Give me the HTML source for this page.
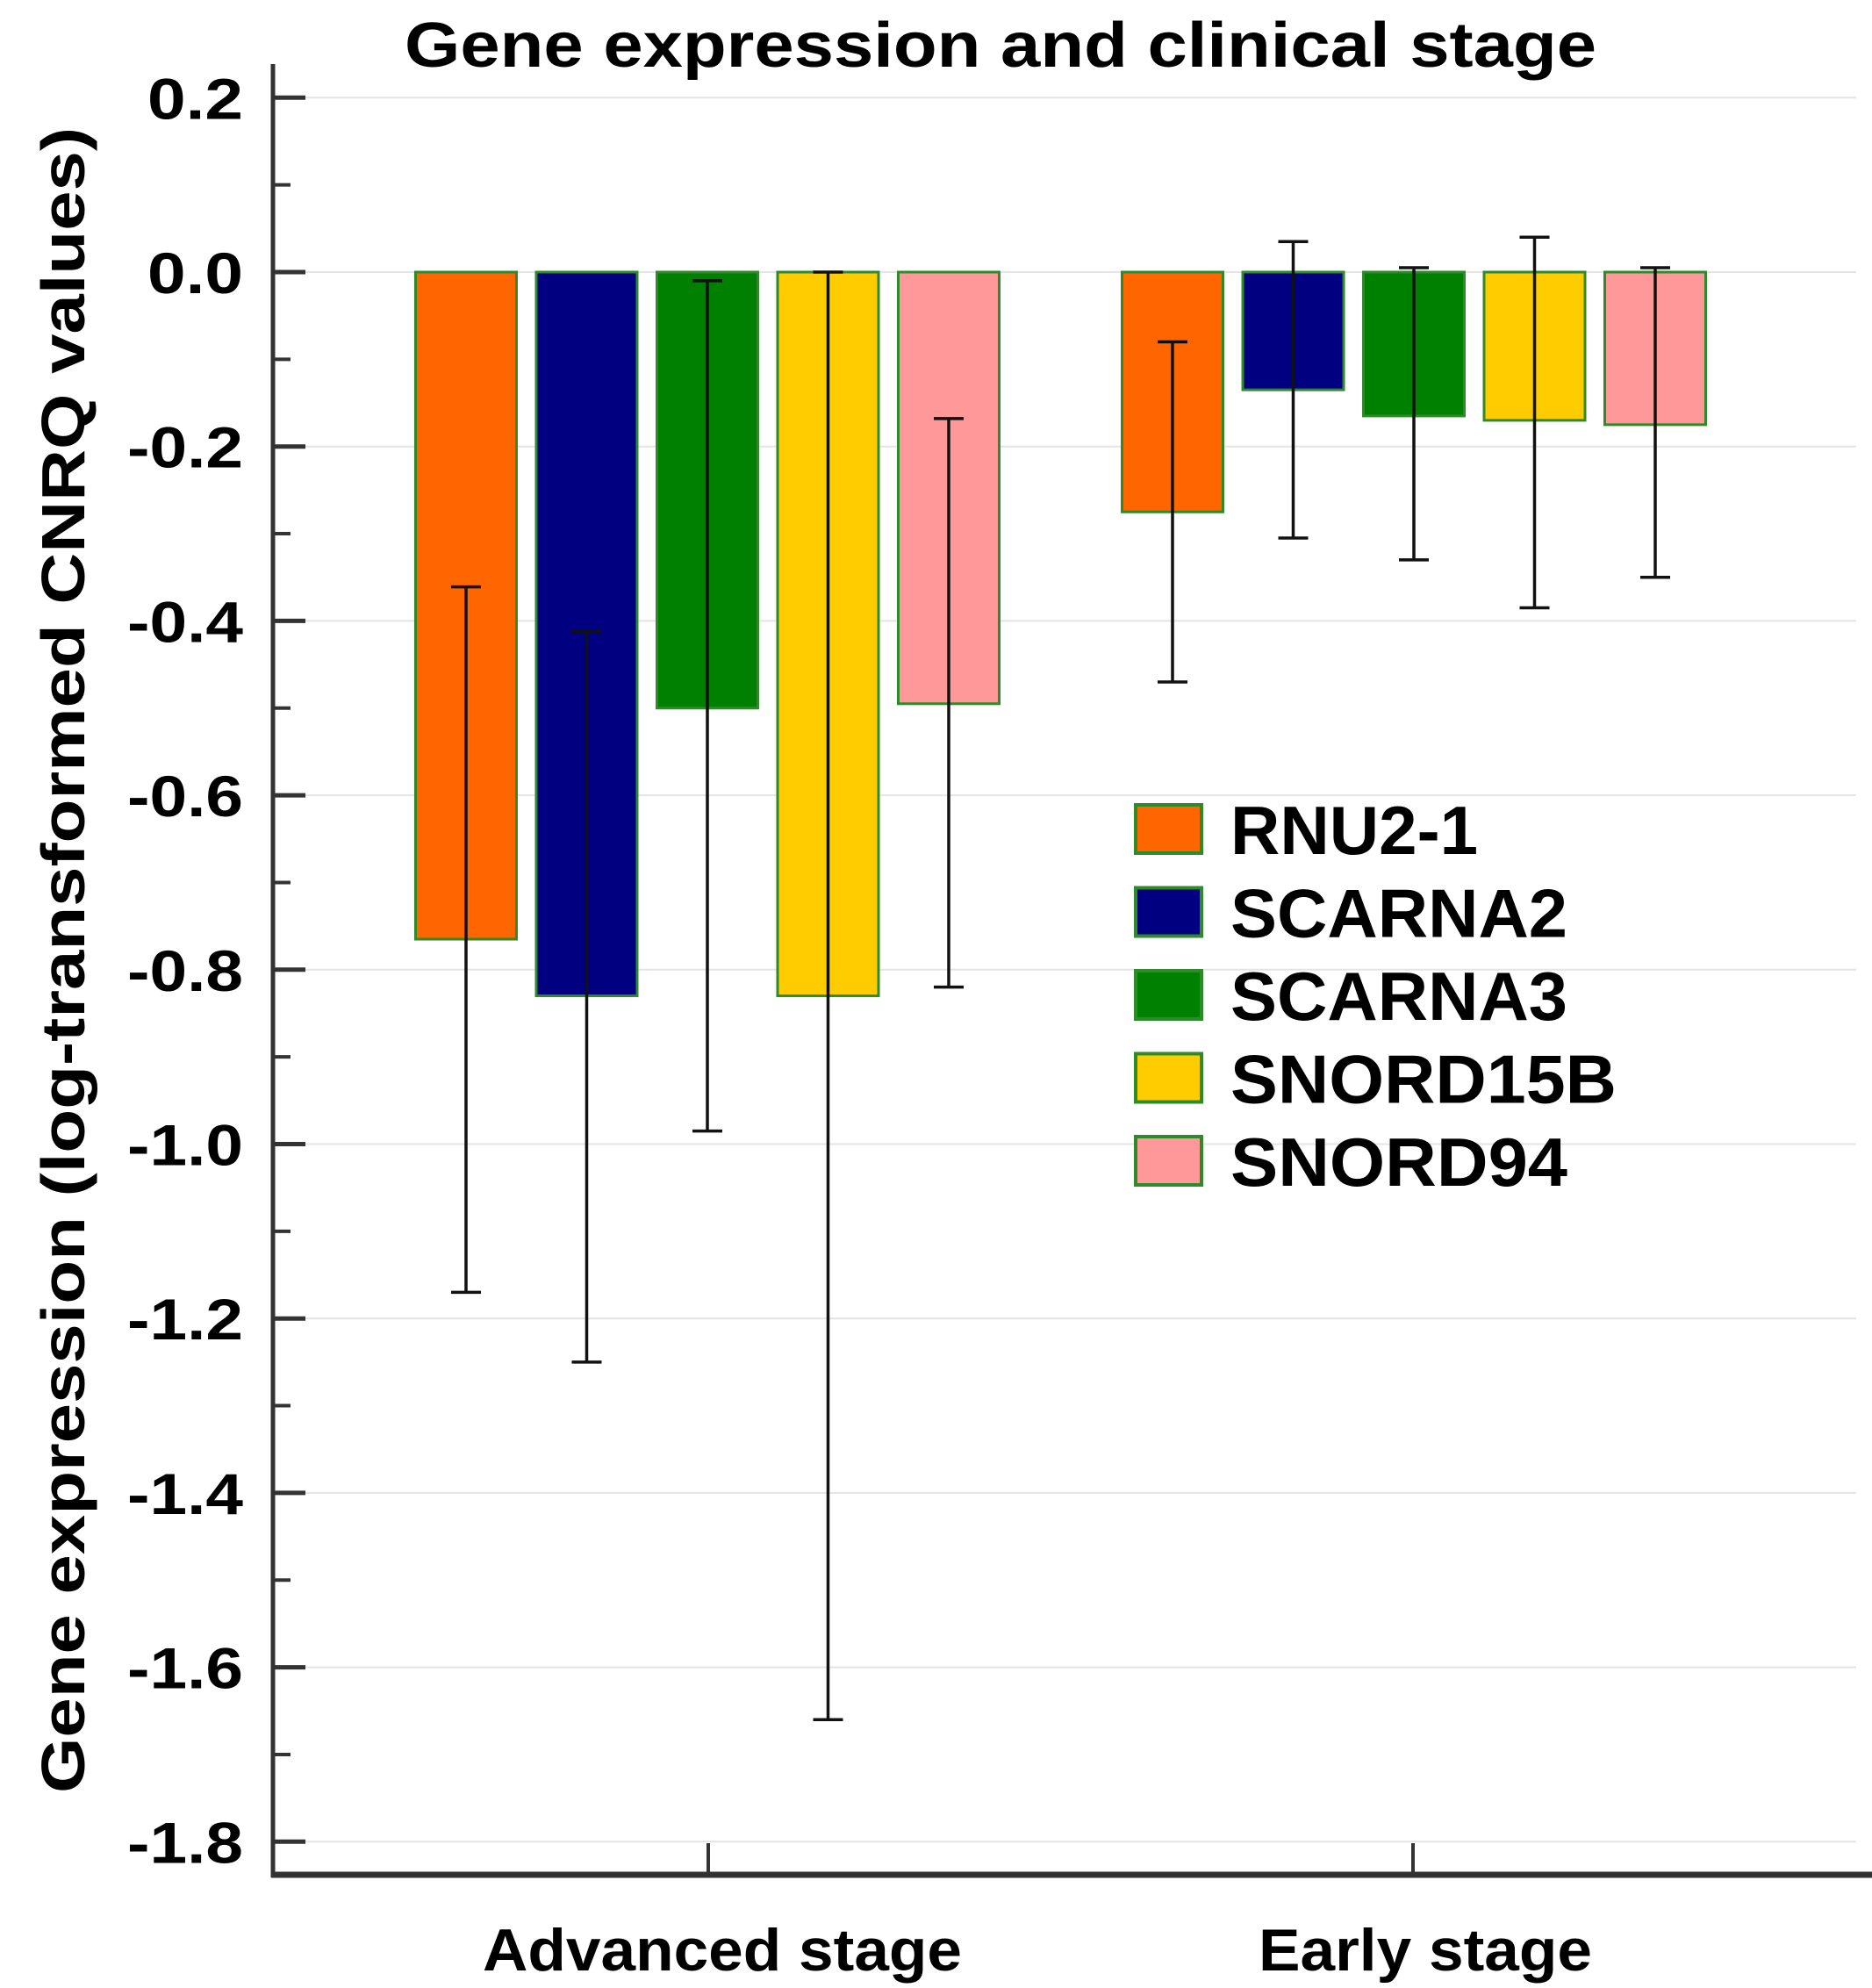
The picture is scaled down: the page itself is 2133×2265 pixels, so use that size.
<!DOCTYPE html>
<html><head><meta charset="utf-8"><style>
body{margin:0;background:#fff;}
svg{display:block;font-family:"Liberation Sans",Arial,sans-serif;}
</style></head><body>
<svg id="chart" width="2133" height="2265" viewBox="0 0 2133 2265" xmlns="http://www.w3.org/2000/svg">
<text x="1140" y="76" font-size="72" font-weight="bold" text-anchor="middle" textLength="1358" lengthAdjust="spacingAndGlyphs">Gene expression and clinical stage</text>
<text transform="translate(96,1094) rotate(-90)" font-size="70" font-weight="bold" text-anchor="middle" textLength="1898" lengthAdjust="spacingAndGlyphs">Gene expression (log-transformed CNRQ values)</text>
<g id="grid"></g><g id="bars"></g><g id="axes"></g><g id="legend"></g>
</svg>
<script>
const categories = ["Advanced stage", "Early stage"];
const genes = ["RNU2-1", "SCARNA2", "SCARNA3", "SNORD15B", "SNORD94"];
const colors = ["#ff6600", "#000080", "#008000", "#ffcc00", "#ff9999"];
const meanAdvanced = [-0.765, -0.83, -0.5, -0.83, -0.495];
const meanEarly = [-0.275, -0.135, -0.165, -0.17, -0.175];
const errHighAdvanced = [-0.361, -0.412, -0.01, 0.0, -0.168];
const errLowAdvanced = [-1.17, -1.25, -0.985, -1.66, -0.82];
const errHighEarly = [-0.08, 0.035, 0.005, 0.04, 0.005];
const errLowEarly = [-0.47, -0.305, -0.33, -0.385, -0.35];
const yTicks = [0.2, 0.0, -0.2, -0.4, -0.6, -0.8, -1.0, -1.2, -1.4, -1.6, -1.8];
const yTickLabels = ["0.2", "0.0", "-0.2", "-0.4", "-0.6", "-0.8", "-1.0", "-1.2", "-1.4", "-1.6", "-1.8"];

const NS = "http://www.w3.org/2000/svg";
function y(v){ return 310 - v * 993.5; }
const barCenters = [806, 1611];
const tickCenters = [807, 1610];
const labelCenters = [823, 1624];
const labelWidths = [546, 380];
function x(ci, gi){ return barCenters[ci] + (gi - 2) * 137.5; }
function mk(tag, attrs, parent){ const e = document.createElementNS(NS, tag); for (const k in attrs) e.setAttribute(k, attrs[k]); parent.appendChild(e); return e; }

const grid = document.getElementById('grid'), bars = document.getElementById('bars'), axes = document.getElementById('axes'), legend = document.getElementById('legend');
yTicks.forEach((v, i) => {
  const g = mk('line', {x1: 311, x2: 2115, y1: y(v), y2: y(v), stroke: '#e4e4e4', 'stroke-width': 2}, grid);
  
  
  const t = mk('line', {x1: 311, x2: 348, y1: y(v), y2: y(v), stroke: '#333', 'stroke-width': 5}, axes);
  
  
  const s = yTickLabels[i];
  const w = s.startsWith('-') ? 132 : 109;
  const l = mk('text', {x: 277 - w, y: y(v) + 24, 'font-size': 66, 'font-weight': 'bold', textLength: w, lengthAdjust: 'spacingAndGlyphs'}, axes);
  l.textContent = s;
  
  
  if (i < yTicks.length - 1) {
    const m = mk('line', {x1: 311, x2: 331, y1: y(v - 0.1), y2: y(v - 0.1), stroke: '#333', 'stroke-width': 4}, axes);
    
    
  }
});
const means = [meanAdvanced, meanEarly], his = [errHighAdvanced, errHighEarly], los = [errLowAdvanced, errLowEarly];
const bw = 115;
for (let c = 0; c < 2; c++) {
  for (let g = 0; g < genes.length; g++) {
    const cx = x(c, g), v = means[c][g];
    const r = mk('rect', {x: cx - bw/2, y: Math.min(y(0), y(v)), width: bw, height: Math.abs(y(v) - y(0)), fill: colors[g], stroke: '#2f8a2a', 'stroke-width': 3}, bars);
    
    
    const e = mk('path', {d: `M${cx},${y(his[c][g])}V${y(los[c][g])}M${cx-17},${y(his[c][g])}H${cx+17}M${cx-17},${y(los[c][g])}H${cx+17}`, stroke: '#111', 'stroke-width': 3.5, fill: 'none'}, bars);
    
    
  }
  const ct = mk('line', {x1: tickCenters[c], x2: tickCenters[c], y1: 2100, y2: 2136, stroke: '#333', 'stroke-width': 4}, axes);
  
  
  const cl = mk('text', {x: labelCenters[c] - labelWidths[c]/2, y: 2245, 'font-size': 68, 'font-weight': 'bold', textLength: labelWidths[c], lengthAdjust: 'spacingAndGlyphs'}, axes);
  cl.textContent = categories[c];
  
  
}
const ya = mk('line', {x1: 311, x2: 311, y1: 73, y2: 2139, stroke: '#333', 'stroke-width': 5}, axes);


const xa = mk('line', {x1: 309, x2: 2133, y1: 2136, y2: 2136, stroke: '#333', 'stroke-width': 7}, axes);


const legendWidths = [282, 384, 384, 440, 384];
genes.forEach((gname, g) => {
  const by = 973 + g * 94.5;
  const b = mk('rect', {x: 1294, y: by - 56, width: 75, height: 55, fill: colors[g], stroke: '#2f8a2a', 'stroke-width': 4}, legend);
  
  
  const t = mk('text', {x: 1402, y: by, 'font-size': 78, 'font-weight': 'bold', textLength: legendWidths[g], lengthAdjust: 'spacingAndGlyphs'}, legend);
  t.textContent = gname;
  
  
});
</script>
</body></html>
